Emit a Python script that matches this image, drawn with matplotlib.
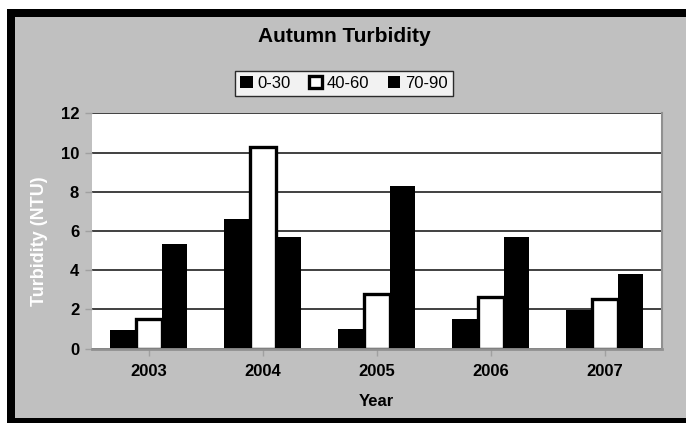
import numpy as np
import matplotlib.pyplot as plt
from matplotlib.patches import Rectangle

# ---------------- Data ----------------
years = ["2003", "2004", "2005", "2006", "2007"]
series_names = ["0-30", "40-60", "70-90"]
turb_0_30 = [0.95, 6.6, 1.0, 1.5, 1.95]
turb_40_60 = [1.5, 10.3, 2.8, 2.65, 2.55]
turb_70_90 = [5.35, 5.7, 8.3, 5.7, 3.8]

plt.rcParams['font.family'] = ['Liberation Sans', 'DejaVu Sans']

W, H = 686, 423
fig = plt.figure(figsize=(W / 100, H / 100), dpi=100)
fig.patch.set_facecolor("white")

# outer frame: thick black border, grey chart area
fig.add_artist(Rectangle((7 / W, -0.05), 1.1, (H - 9) / H + 0.05,
                         transform=fig.transFigure, facecolor="black",
                         edgecolor="none", zorder=-10))
fig.add_artist(Rectangle((15 / W, 5 / H), 1.1, (418 - 17) / H,
                         transform=fig.transFigure, facecolor="#c0c0c0",
                         edgecolor="none", zorder=-9))

ax = fig.add_axes([91.7 / W, (H - 348.7) / H, 570 / W, 235.4 / H])
ax.set_facecolor("white")

x = np.arange(len(years))
w = 0.225
ax.bar(x - w, turb_0_30, w, color="black", edgecolor="black", linewidth=0,
       label=series_names[0], zorder=3)
ax.bar(x, turb_40_60, w, color="white", edgecolor="black", linewidth=2.4,
       label=series_names[1], zorder=4)
ax.bar(x + w, turb_70_90, w, color="black", edgecolor="black", linewidth=0,
       label=series_names[2], zorder=3)

ax.set_xlim(-0.5, len(years) - 0.5)
ax.set_ylim(0, 12)
ax.set_yticks(range(0, 13, 2))
ax.set_xticks(x)
ax.set_xticklabels(years)

ax.yaxis.grid(True, color="#202020", linewidth=1.2, zorder=1)
ax.set_axisbelow(True)

for s in ["top", "left"]:
    ax.spines[s].set_visible(False)
ax.spines["right"].set_color("#909090")
ax.spines["right"].set_linewidth(1.5)
ax.spines["bottom"].set_color("#909090")
ax.spines["bottom"].set_linewidth(2)
ax.spines["bottom"].set_zorder(5)

ax.tick_params(axis="both", colors="#a0a0a0", length=5, width=1,
               labelcolor="black", labelsize=12)
ax.tick_params(axis="x", pad=6)
ax.tick_params(axis="y", pad=4)
for lab in ax.get_xticklabels() + ax.get_yticklabels():
    lab.set_fontweight("bold")

# axis titles and chart title placed in figure pixels
fig.text(376 / W, (H - 401) / H, "Year", ha="center", va="center",
         fontsize=12, fontweight="bold")
fig.text(39 / W, (H - 241) / H, "Turbidity (NTU)", ha="center", va="center",
         rotation=90, fontsize=13, fontweight="bold", color="white")
fig.text(344 / W, (H - 37) / H, "Autumn Turbidity", ha="center",
         va="center", fontsize=15, fontweight="bold")

leg = ax.legend(loc="center", bbox_to_anchor=(344 / W, (H - 83.5) / H),
                bbox_transform=fig.transFigure, ncol=3, frameon=True,
                fancybox=False, edgecolor="black", fontsize=12,
                handlelength=0.75, handleheight=0.75, handletextpad=0.3,
                columnspacing=1.1, borderpad=0.3, borderaxespad=0)
leg.get_frame().set_linewidth(1)

fig.savefig("out.png", dpi=100, facecolor=fig.get_facecolor())
